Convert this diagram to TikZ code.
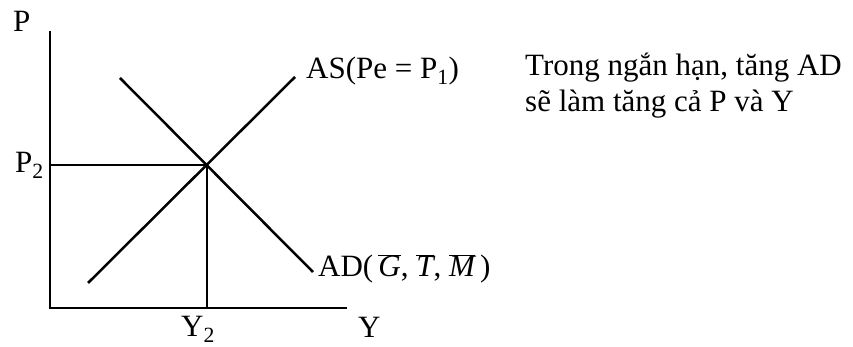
\documentclass[tikz,border=0pt]{standalone}
\usepackage{fontspec}
\setmainfont{Liberation Serif}
\begin{document}
\begin{tikzpicture}[x=1pt,y=1pt,
  axis/.style={line width=2.6pt},
  curve/.style={line width=2.5pt},
  guide/.style={line width=1.1pt},
  lbl/.style={font=\fontsize{31}{36}\selectfont, inner sep=0pt, anchor=base west}]
\useasboundingbox (0,0) rectangle (853,347);
% axes
\coordinate (ytop) at (50,316);
\coordinate (orig) at (50,39);
\coordinate (xend) at (347,39);
\draw[axis] (ytop) -- (orig) -- (xend);
% curves
\coordinate (as1) at (88,64);
\coordinate (as2) at (295,270);
\coordinate (ad1) at (120,269);
\coordinate (ad2) at (313,75);
\coordinate (eq) at (207,182);
\coordinate (p2) at (50,182);
\coordinate (y2) at (207,39);
\draw[guide] (p2) -- (eq) -- (y2);
\draw[curve] (as1) -- (as2);
\draw[curve] (ad1) -- (ad2);
% labels
\node[lbl] (lp) at (13,315) {P};
\node[lbl] (lp2) at (15,174) {P\textsubscript{2}};
\node[lbl] (ly2) at (181,10) {Y\textsubscript{2}};
\node[lbl] (ly) at (358,9) {Y};
\node[lbl] (las) at (306,268) {AS(Pe = P\textsubscript{1})};
\node[lbl] (lad) at (318,70) {AD(\,$\overline{\mbox{\itshape G}}$, $\overline{\mbox{\itshape T}}$, $\overline{\mbox{\itshape M}}$\,)};
\node[lbl] (txt1) at (525,271) {Trong ngắn hạn, tăng AD};
\node[lbl] (txt2) at (525,235) {sẽ làm tăng cả P và Y};
\end{tikzpicture}
\end{document}
